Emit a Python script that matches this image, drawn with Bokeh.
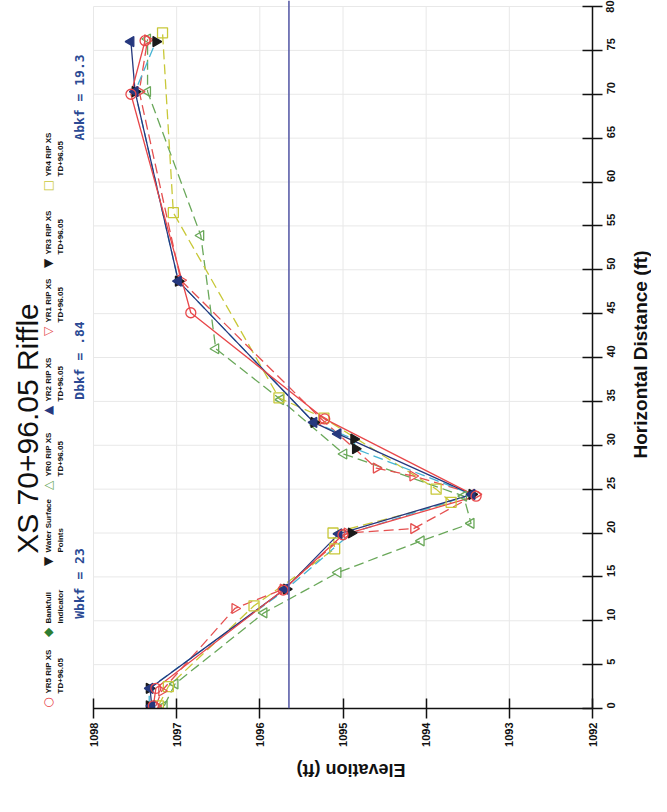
import math
from bokeh.plotting import figure
from bokeh.layouts import row
from bokeh.models import Range1d, FixedTicker, Span, Label
from bokeh.embed import file_html
from bokeh.resources import INLINE

# ---------------- data (distance ft, elevation ft) ----------------
yr5_dist = [0.3, 2.3, 13.5, 19.8, 24.2, 33.0, 45.1, 70.0, 76.1]
yr5_elev = [1097.28, 1097.25, 1095.72, 1095.00, 1093.40, 1095.22, 1096.83, 1097.55, 1097.38]

yr0_dist = [0.3, 2.8, 10.9, 15.5, 19.1, 21.1, 24.2, 29.0, 35.2, 41.0, 53.9, 70.3, 76.3]
yr0_elev = [1097.15, 1097.02, 1095.95, 1095.06, 1094.06, 1093.46, 1093.55, 1094.99, 1095.75, 1096.53, 1096.71, 1097.35, 1097.35]

yr2_dist = [0.3, 2.3, 13.6, 19.9, 24.4, 31.3, 32.6, 48.7, 70.3, 76.0]
yr2_elev = [1097.30, 1097.32, 1095.70, 1095.05, 1093.45, 1095.06, 1095.35, 1096.98, 1097.50, 1097.55]

yr1_dist = [0.3, 2.0, 11.4, 13.6, 20.0, 20.5, 24.4, 26.5, 27.4, 32.9, 48.8, 70.3, 76.2]
yr1_elev = [1097.25, 1097.18, 1096.30, 1095.72, 1094.95, 1094.15, 1093.40, 1094.16, 1094.60, 1095.25, 1096.95, 1097.45, 1097.35]

yr3_dist = [0.3, 2.3, 13.6, 20.0, 24.4, 29.6, 30.7, 32.6, 48.7, 70.3, 76.0]
yr3_elev = [1097.33, 1097.33, 1095.68, 1094.90, 1093.45, 1094.85, 1094.87, 1095.35, 1096.98, 1097.50, 1097.25]

yr4_dist = [0.3, 2.5, 11.7, 18.2, 20.0, 23.5, 25.0, 33.1, 35.4, 56.5, 77.0]
yr4_elev = [1097.22, 1097.10, 1096.07, 1095.10, 1095.12, 1093.70, 1093.88, 1095.23, 1095.77, 1097.04, 1097.17]

bankfull_elev = 1095.65

elev_ticks = [1092, 1093, 1094, 1095, 1096, 1097, 1098]
dist_ticks = list(range(0, 81, 5))

title_text = "XS 70+96.05 Riffle"
x_title = "Horizontal Distance (ft)"
y_title = "Elevation (ft)"
notes = ["Wbkf = 23", "Dbkf = .84", "Abkf = 19.3"]
legend_lines = [("YR5 RIP XS", "TD+96.05"), ("Bankfull", "Indicator"),
                ("Water Surface", "Points"), ("YR0 RIP XS", "TD+96.05"),
                ("YR2 RIP XS", "TD+96.05"), ("YR1 RIP XS", "TD+96.05"),
                ("YR3 RIP XS", "TD+96.05"), ("YR4 RIP XS", "TD+96.05")]
legend_symbols = ["\u25CB", "\u25C6", "\u25BC", "\u25B3", "\u25B2", "\u25BD", "\u25BC", "\u25A1"]

# ---------------- main figure ----------------
W_TOTAL, H = 651, 796
AX_L, AX_T, AX_B, AX_R = 93, 6, 708, 592   # pixel positions of 1098, 80 ft, 0 ft, 1092
BR = 36
W = AX_R + BR
BB = H - AX_B
ppx = (AX_R - AX_L) / 6.0
ppy = (AX_B - AX_T) / 80.0

p = figure(width=W, height=H,
           x_range=Range1d(1098 + AX_L / ppx, 1092),
           y_range=Range1d(0, 80 + AX_T / ppy),
           output_backend="svg", toolbar_location=None, y_axis_location="right",
           min_border_left=0, min_border_right=BR, min_border_top=0, min_border_bottom=BB)
p.outline_line_color = None
p.background_fill_color = "white"
p.border_fill_color = "white"
p.xgrid.visible = False
p.ygrid.visible = False


def pos(px, py):
    """canvas pixel -> data coords"""
    return 1098 - (px - AX_L) / ppx, (AX_B - py) / ppy


p.xaxis.ticker = FixedTicker(ticks=elev_ticks)
p.yaxis.ticker = FixedTicker(ticks=dist_ticks)
p.xaxis.bounds = (1092, 1098)
p.yaxis.bounds = (0, 80)
for ax in (p.xaxis, p.yaxis):
    ax.major_tick_in = 10
    ax.major_tick_out = 10
    ax.minor_tick_line_color = None
    ax.axis_line_color = "#111111"
    ax.axis_line_width = 1.5
    ax.major_tick_line_color = "#111111"
    ax.major_tick_line_width = 1.5
    ax.major_label_text_font = "Liberation Sans"
    ax.major_label_text_font_style = "bold"
    ax.major_label_text_font_size = "11px"
    ax.major_label_text_color = "#111111"
    ax.major_label_orientation = math.pi / 2
    ax.axis_label_text_font = "Liberation Sans"
    ax.axis_label_text_font_style = "bold"
    ax.axis_label_text_font_size = "18px"
    ax.axis_label_text_color = "#111111"
p.xaxis.major_label_standoff = 4
p.yaxis.major_label_standoff = 8
p.xaxis.axis_label = y_title
p.xaxis.axis_label_orientation = math.pi
p.xaxis.axis_label_standoff = 20

# faint grid drawn from the tick arrays
p.segment(x0=elev_ticks, y0=[0] * len(elev_ticks), x1=elev_ticks, y1=[80] * len(elev_ticks),
          line_color="#e8e8e8", line_width=1)
p.segment(x0=[1098] * len(dist_ticks), y0=dist_ticks, x1=[1092] * len(dist_ticks), y1=dist_ticks,
          line_color="#e8e8e8", line_width=1)

p.add_layout(Span(location=bankfull_elev, dimension="height", line_color="#5a5ea8", line_width=1.6))

series = [
    (yr0_dist, yr0_elev, "#6aa85a", "10 5", "triangle", "#6aa85a", None),
    (yr4_dist, yr4_elev, "#c8c838", "10 5", "square", "#c8c838", None),
    (yr1_dist, yr1_elev, "#e55050", "10 5", "inverted_triangle", "#e55050", None),
    (yr3_dist, yr3_elev, "#46b4d4", "10 5", "inverted_triangle", "#1a1a1a", "#1a1a1a"),
    (yr2_dist, yr2_elev, "#26387e", "solid", "triangle", "#26387e", "#26387e"),
    (yr5_dist, yr5_elev, "#e8474a", "solid", "circle", "#e8474a", None),
]
for d, e, lc, dash, mk, mc, fc in series:
    p.line(e, d, line_color=lc, line_width=1.3, line_dash=dash)
for d, e, lc, dash, mk, mc, fc in series:
    p.scatter(e, d, marker=mk, size=10, angle=math.pi / 2, line_color=mc,
              fill_color=fc, line_width=1.3)


# ---------------- texts (rotated like the reference) ----------------
def add_label(fig, x, y, text, size, angle=math.pi / 2, color="#111111", font="Liberation Sans",
              style="normal", align="center", baseline="middle"):
    fig.add_layout(Label(x=x, y=y, text=text, angle=angle,
                         text_font=font, text_font_size=size, text_font_style=style,
                         text_color=color, text_align=align, text_baseline=baseline))


add_label(p, *pos(27, 428), title_text, "30px")

for txt, cy in zip(notes, [583, 360, 97]):
    add_label(p, *pos(79, cy), txt, "13px", color="#2b4a94", font="DejaVu Sans Mono", style="bold")

legend_y = [702, 632, 561, 485, 410, 331, 263, 185]
legend_colors = ["#e8474a", "#2e7d32", "#1a1a1a", "#6aa85a", "#26387e", "#e55050", "#1a1a1a", "#c8c838"]
for (l1, l2), sym, col, my in zip(legend_lines, legend_symbols, legend_colors, legend_y):
    add_label(p, *pos(47, my), sym, "12px", color=col, font="DejaVu Sans")
    add_label(p, *pos(48, my - 9), l1, "8px", style="bold", align="left")
    add_label(p, *pos(60, my - 9), l2, "8px", style="bold", align="left")

# ---------------- right strip holding the distance-axis title ----------------
SW = W_TOTAL - W
s = figure(width=SW, height=H, x_range=Range1d(0, SW), y_range=Range1d(H, 0),
           output_backend="svg", toolbar_location=None,
           x_axis_type=None, y_axis_type=None,
           min_border_left=0, min_border_right=0, min_border_top=0, min_border_bottom=0)
s.outline_line_color = None
s.xgrid.visible = False
s.ygrid.visible = False
s.background_fill_color = "white"
s.border_fill_color = "white"
add_label(s, 640 - W, 398, x_title, "19px", style="bold")

layout = row(p, s, spacing=0)
open("out.html", "w").write(file_html(layout, INLINE))
